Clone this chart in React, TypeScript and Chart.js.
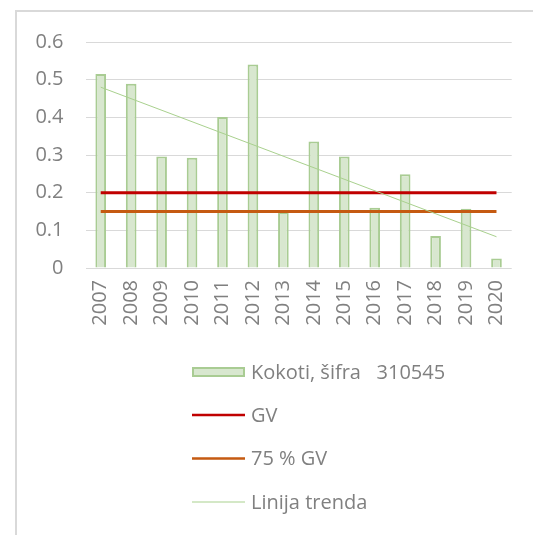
import React, { useEffect, useRef } from "react";
import { Chart, registerables } from "chart.js";

Chart.register(...registerables);

const categories = ["2007", "2008", "2009", "2010", "2011", "2012", "2013", "2014", "2015", "2016", "2017", "2018", "2019", "2020"];
const kokotiValues = [0.515, 0.489, 0.296, 0.293, 0.401, 0.54, 0.149, 0.336, 0.296, 0.16, 0.249, 0.085, 0.157, 0.025];
const gvValues = [0.2, 0.2, 0.2, 0.2, 0.2, 0.2, 0.2, 0.2, 0.2, 0.2, 0.2, 0.2, 0.2, 0.2];
const gv75Values = [0.15, 0.15, 0.15, 0.15, 0.15, 0.15, 0.15, 0.15, 0.15, 0.15, 0.15, 0.15, 0.15, 0.15];
const trendValues = [0.48, null, null, null, null, null, null, null, null, null, null, null, null, 0.083];
const seriesLabels = ["Kokoti, šifra   310545", "GV", "75 % GV", "Linija trenda"];
const yMin = 0;
const yMax = 0.6;
const yStep = 0.1;

const FONT = "'Open Sans', sans-serif";
const TEXT_COLOR = "#808080";
const BAR_FILL = "#d8e7cf";
const BAR_BORDER = "#a9cc93";
const GV_COLOR = "#c00000";
const GV75_COLOR = "#c55a11";
const TREND_COLOR = "#a9d18e";

const framePlugin = {
  id: "frame",
  beforeDraw(chart: any) {
    const ctx = chart.ctx;
    ctx.save();
    ctx.fillStyle = "#ffffff";
    ctx.fillRect(0, 0, chart.width, chart.height);
    ctx.fillStyle = "#d9d9d9";
    ctx.fillRect(15, 10, 2, chart.height - 10);
    ctx.fillRect(15, 10, chart.width - 15, 2);
    ctx.restore();
  },
};

const legendPlugin = {
  id: "stackedLegend",
  afterDraw(chart: any) {
    const ctx = chart.ctx;
    const datasets = chart.data.datasets;
    const x0 = 192;
    const x1 = 245;
    const tx = 251;
    const ys = [372, 415, 458.5, 502];
    ctx.save();
    ctx.font = `20px ${FONT}`;
    ctx.textBaseline = "middle";
    ctx.textAlign = "left";
    datasets.forEach((ds: any, i: number) => {
      const y = ys[i];
      if (ds.type === "bar" || !ds.type) {
        ctx.fillStyle = ds.backgroundColor;
        ctx.fillRect(x0, y - 5, x1 - x0, 10);
        ctx.strokeStyle = ds.borderColor;
        ctx.lineWidth = 2;
        ctx.strokeRect(x0 + 1, y - 4, x1 - x0 - 2, 8);
      } else {
        ctx.strokeStyle = ds.borderColor;
        ctx.lineWidth = ds.legendWidth;
        ctx.beginPath();
        ctx.moveTo(x0, y);
        ctx.lineTo(x1, y);
        ctx.stroke();
      }
      ctx.fillStyle = TEXT_COLOR;
      ctx.fillText(ds.label, tx, y + 1);
    });
    ctx.restore();
  },
};

export default function App() {
  const canvasRef = useRef<HTMLCanvasElement | null>(null);

  useEffect(() => {
    if (!canvasRef.current) return;
    const chart = new Chart(canvasRef.current, {
      type: "bar",
      data: {
        labels: categories,
        datasets: [
          {
            type: "bar",
            label: seriesLabels[0],
            data: kokotiValues,
            backgroundColor: BAR_FILL,
            borderColor: BAR_BORDER,
            borderWidth: 2,
            categoryPercentage: 1,
            barPercentage: 0.35,
            order: 4,
          } as any,
          {
            type: "line",
            label: seriesLabels[1],
            data: gvValues,
            borderColor: GV_COLOR,
            borderWidth: 3,
            pointRadius: 0,
            fill: false,
            order: 2,
            legendWidth: 2.5,
          } as any,
          {
            type: "line",
            label: seriesLabels[2],
            data: gv75Values,
            borderColor: GV75_COLOR,
            borderWidth: 3,
            pointRadius: 0,
            fill: false,
            order: 3,
            legendWidth: 2.5,
          } as any,
          {
            type: "line",
            label: seriesLabels[3],
            data: trendValues,
            borderColor: TREND_COLOR,
            borderWidth: 1,
            pointRadius: 0,
            fill: false,
            spanGaps: true,
            order: 1,
            legendWidth: 1,
          } as any,
        ],
      },
      options: {
        animation: false,
        responsive: false,
        maintainAspectRatio: false,
        layout: { padding: { left: 15, right: 14.5, top: 42, bottom: 0 } },
        plugins: {
          legend: { display: false },
          tooltip: { enabled: false },
        },
        scales: {
          x: {
            grid: { display: false, drawTicks: false },
            border: { display: false },
            ticks: {
              autoSkip: false,
              minRotation: 90,
              maxRotation: 90,
              padding: 12,
              color: TEXT_COLOR,
              font: { family: FONT, size: 20 },
            },
            afterFit: (s: any) => {
              s.height = 267;
            },
          },
          y: {
            min: yMin,
            max: yMax,
            grid: { color: "#d9d9d9", lineWidth: 1, drawTicks: false },
            border: { display: false },
            ticks: {
              stepSize: yStep,
              padding: 22,
              color: TEXT_COLOR,
              font: { family: FONT, size: 20 },
            },
            afterFit: (s: any) => {
              s.width = 70.5;
            },
          },
        },
      },
      plugins: [framePlugin, legendPlugin],
    });
    return () => chart.destroy();
  }, []);

  return (
    <div style={{ position: "absolute", left: 0, top: 0, width: 533, height: 535 }}>
      <canvas ref={canvasRef} width={533} height={535} style={{ display: "block" }} />
    </div>
  );
}
